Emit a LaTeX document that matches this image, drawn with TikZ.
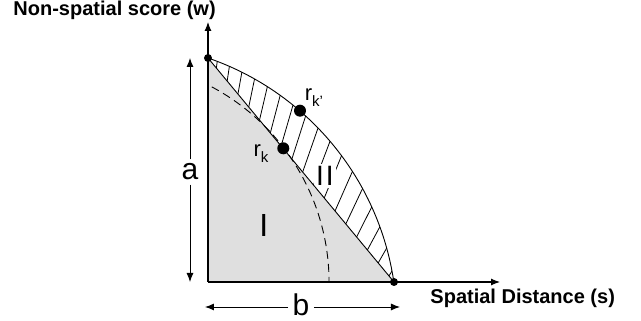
\documentclass[tikz,border=0pt]{standalone}
\usepackage{fontspec}
\setmainfont{Liberation Sans}
\usetikzlibrary{arrows.meta,calc}

\begin{document}
\begin{tikzpicture}[x=1pt,y=1pt,>={Latex[length=9pt,width=7pt]},line width=0.9pt,
  big/.style={font=\fontsize{30}{30}\selectfont,inner sep=4pt},
  axlabel/.style={font=\fontsize{20}{20}\selectfont\bfseries,inner sep=0pt},
  corner/.style={circle,fill,inner sep=0pt,minimum size=8pt},
  rdot/.style={circle,fill,inner sep=0pt,minimum size=12pt},
  rlabel/.style={font=\fontsize{22}{22}\selectfont,inner sep=0pt}]
  \useasboundingbox (-208,-39) rectangle (433,282);
  \coordinate (O) at (0,0);
  \coordinate (A) at (0,224);
  \coordinate (B) at (186,0);
  \coordinate (D) at (3.8,195.1);
  \coordinate (wtip) at (0,260);
  \coordinate (stip) at (292,0);
  \fill[gray!25] (O) -- (A) -- (B) -- cycle;
  \begin{scope}
    \clip (A) arc[start angle=71,end angle=8.36,radius=280] -- cycle;
    \foreach \t in {0.045,0.103,...,0.99} \draw[line width=0.8pt] ($(A)!\t!(B)$) -- ++({84-26*\t}:90);
  \end{scope}
  \node[fill=white,inner sep=2pt,font=\fontsize{28}{28}\selectfont] (two) at (117,106) {I\kern2pt I};
  \draw[dash pattern=on 8pt off 5pt] (D) arc[start angle=62,end angle=0,radius=221];
  \draw (A) -- (B);
  \draw (A) arc[start angle=71,end angle=8.36,radius=280];
  \draw[->,line width=1.1pt] (O) -- (wtip);
  \draw[->,line width=1.1pt] (O) -- (stip);
  \node[corner] (Adot) at (A) {};
  \node[corner] (Bdot) at (B) {};
  \node[rdot] (rk) at (75.3,133.7) {};
  \node[rdot] (rk2) at (92,171.3) {};
  \node[rlabel] (rklab) at (53,128) {r\raisebox{-6pt}{\fontsize{15}{15}\selectfont k}};
  \node[rlabel] (rk2lab) at (106,184) {r\raisebox{-6pt}{\fontsize{15}{15}\selectfont k'}};
  \node[big,font=\fontsize{32}{32}\selectfont] (one) at (55.7,56.3) {I};
  \coordinate (atop) at (-18,224);
  \coordinate (abot) at (-18,0);
  \node[big] (alab) at (-18,110) {a};
  \draw[->] (alab.north) -- (atop);
  \draw[->] (alab.south) -- (abot);
  \coordinate (bl) at (-3,-25);
  \coordinate (br) at (192,-25);
  \node[big] (blab) at (93,-23) {b};
  \draw[->] (blab.west |- bl) -- (bl);
  \draw[->] (blab.east |- br) -- (br);
  \node[axlabel,anchor=base west] (wlab) at (-195,266) {Non-spatial score (w)};
  \node[axlabel,anchor=base west] (slab) at (222,-22) {Spatial Distance (s)};
\end{tikzpicture}
\end{document}
